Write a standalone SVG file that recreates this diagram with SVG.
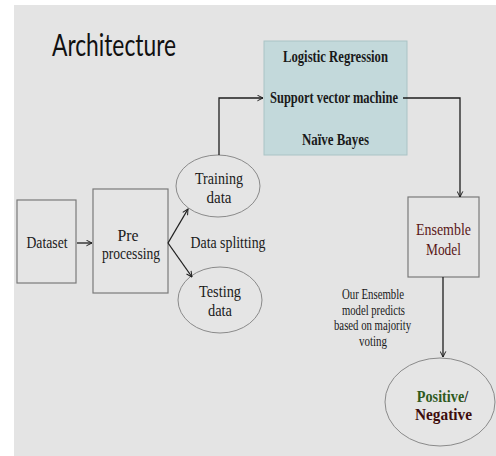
<svg xmlns="http://www.w3.org/2000/svg" width="496" height="456" viewBox="0 0 496 456">
<style>
.bg{fill:#e4e4e4}
.box{fill:#e5e5e5;stroke:#7a7a7a;stroke-width:1.2}
.ell{fill:#e5e5e5;stroke:#8a8a8a;stroke-width:1}
.t{font-family:"Liberation Serif","Times New Roman",serif;font-size:17px;fill:#1a1a1a;text-anchor:middle}
.b{font-weight:bold}
.s{font-size:14px}
.red{fill:#5a1616}
.dred{fill:#3d0c0c}
.green{fill:#2f5a1e}
.dark{fill:#1a1a1a}
.conn{fill:none;stroke:#1e1e1e;stroke-width:1.3}
</style>
<defs>
<marker id="arr" viewBox="0 0 10 10" refX="9" refY="5" markerWidth="7" markerHeight="7" markerUnits="userSpaceOnUse" orient="auto">
<path d="M1,1 L9,5 L1,9" fill="none" stroke="#1e1e1e" stroke-width="1.4"/>
</marker>
</defs>
<rect x="0" y="0" width="496" height="456" fill="#ffffff"/>
<rect class="bg" x="14" y="5" width="482" height="451"/>
<text x="52" y="56" font-family="Lato,'Open Sans',sans-serif" font-size="31" fill="#111" textLength="124" lengthAdjust="spacingAndGlyphs">Architecture</text>

<g id="models">
<rect x="264" y="41" width="143" height="114" fill="#c3d9db" stroke="#aac3c5" stroke-width="1"/>
<text class="t b" x="335.5" y="62" textLength="105" lengthAdjust="spacingAndGlyphs">Logistic Regression</text>
<text class="t b" x="334" y="103" textLength="128" lengthAdjust="spacingAndGlyphs">Support vector machine</text>
<text class="t b" x="335.5" y="145" textLength="67" lengthAdjust="spacingAndGlyphs">Naïve Bayes</text>
</g>

<g id="dataset">
<rect class="box" x="17" y="200" width="59" height="83"/>
<text class="t" x="47" y="248" textLength="41" lengthAdjust="spacingAndGlyphs">Dataset</text>
</g>

<g id="preprocessing">
<rect class="box" x="93" y="189" width="75" height="104"/>
<text class="t" x="128" y="241" textLength="21" lengthAdjust="spacingAndGlyphs">Pre</text>
<text class="t" x="131" y="259" textLength="58" lengthAdjust="spacingAndGlyphs">processing</text>
</g>

<g id="training">
<ellipse class="ell" cx="218" cy="186" rx="42" ry="31"/>
<text class="t" x="219" y="184" textLength="48" lengthAdjust="spacingAndGlyphs">Training</text>
<text class="t" x="219" y="203" textLength="25" lengthAdjust="spacingAndGlyphs">data</text>
</g>

<g id="testing">
<ellipse class="ell" cx="220" cy="300" rx="42" ry="33"/>
<text class="t" x="220" y="297" textLength="42" lengthAdjust="spacingAndGlyphs">Testing</text>
<text class="t" x="220" y="316" textLength="24" lengthAdjust="spacingAndGlyphs">data</text>
</g>

<text class="t" x="228" y="248" textLength="75" lengthAdjust="spacingAndGlyphs">Data splitting</text>

<g id="ensemble">
<rect class="box" x="408" y="197" width="71" height="80"/>
<text class="t red" x="443.5" y="235" textLength="55" lengthAdjust="spacingAndGlyphs">Ensemble</text>
<text class="t red" x="443.5" y="255" textLength="35" lengthAdjust="spacingAndGlyphs">Model</text>
</g>

<g id="note">
<text class="t s" x="373" y="299" textLength="62" lengthAdjust="spacingAndGlyphs">Our Ensemble</text>
<text class="t s" x="373.5" y="315" textLength="63" lengthAdjust="spacingAndGlyphs">model predicts</text>
<text class="t s" x="372.5" y="330" textLength="77" lengthAdjust="spacingAndGlyphs">based on majority</text>
<text class="t s" x="373" y="346" textLength="28" lengthAdjust="spacingAndGlyphs">voting</text>
</g>

<g id="result">
<ellipse class="ell" cx="440" cy="402" rx="55" ry="44"/>
<text class="t b" font-size="18" transform="translate(442.5,402) scale(0.84,1)"><tspan class="green">Positive</tspan><tspan class="dark">/</tspan></text>
<text class="t b dred" x="443.5" y="420" font-size="18" textLength="57" lengthAdjust="spacingAndGlyphs">Negative</text>
</g>

<g id="connectors">
<path class="conn" d="M77,243 L92,243" marker-end="url(#arr)"/>
<path class="conn" d="M168,243 L188,209" marker-end="url(#arr)"/>
<path class="conn" d="M168,243 L192,277" marker-end="url(#arr)"/>
<path class="conn" d="M219,155 L219,98 L263,98" marker-end="url(#arr)"/>
<path class="conn" d="M403,98 L460,98 L460,197" marker-end="url(#arr)"/>
<path class="conn" d="M443,277 L443,357" marker-end="url(#arr)"/>
</g>
</svg>
